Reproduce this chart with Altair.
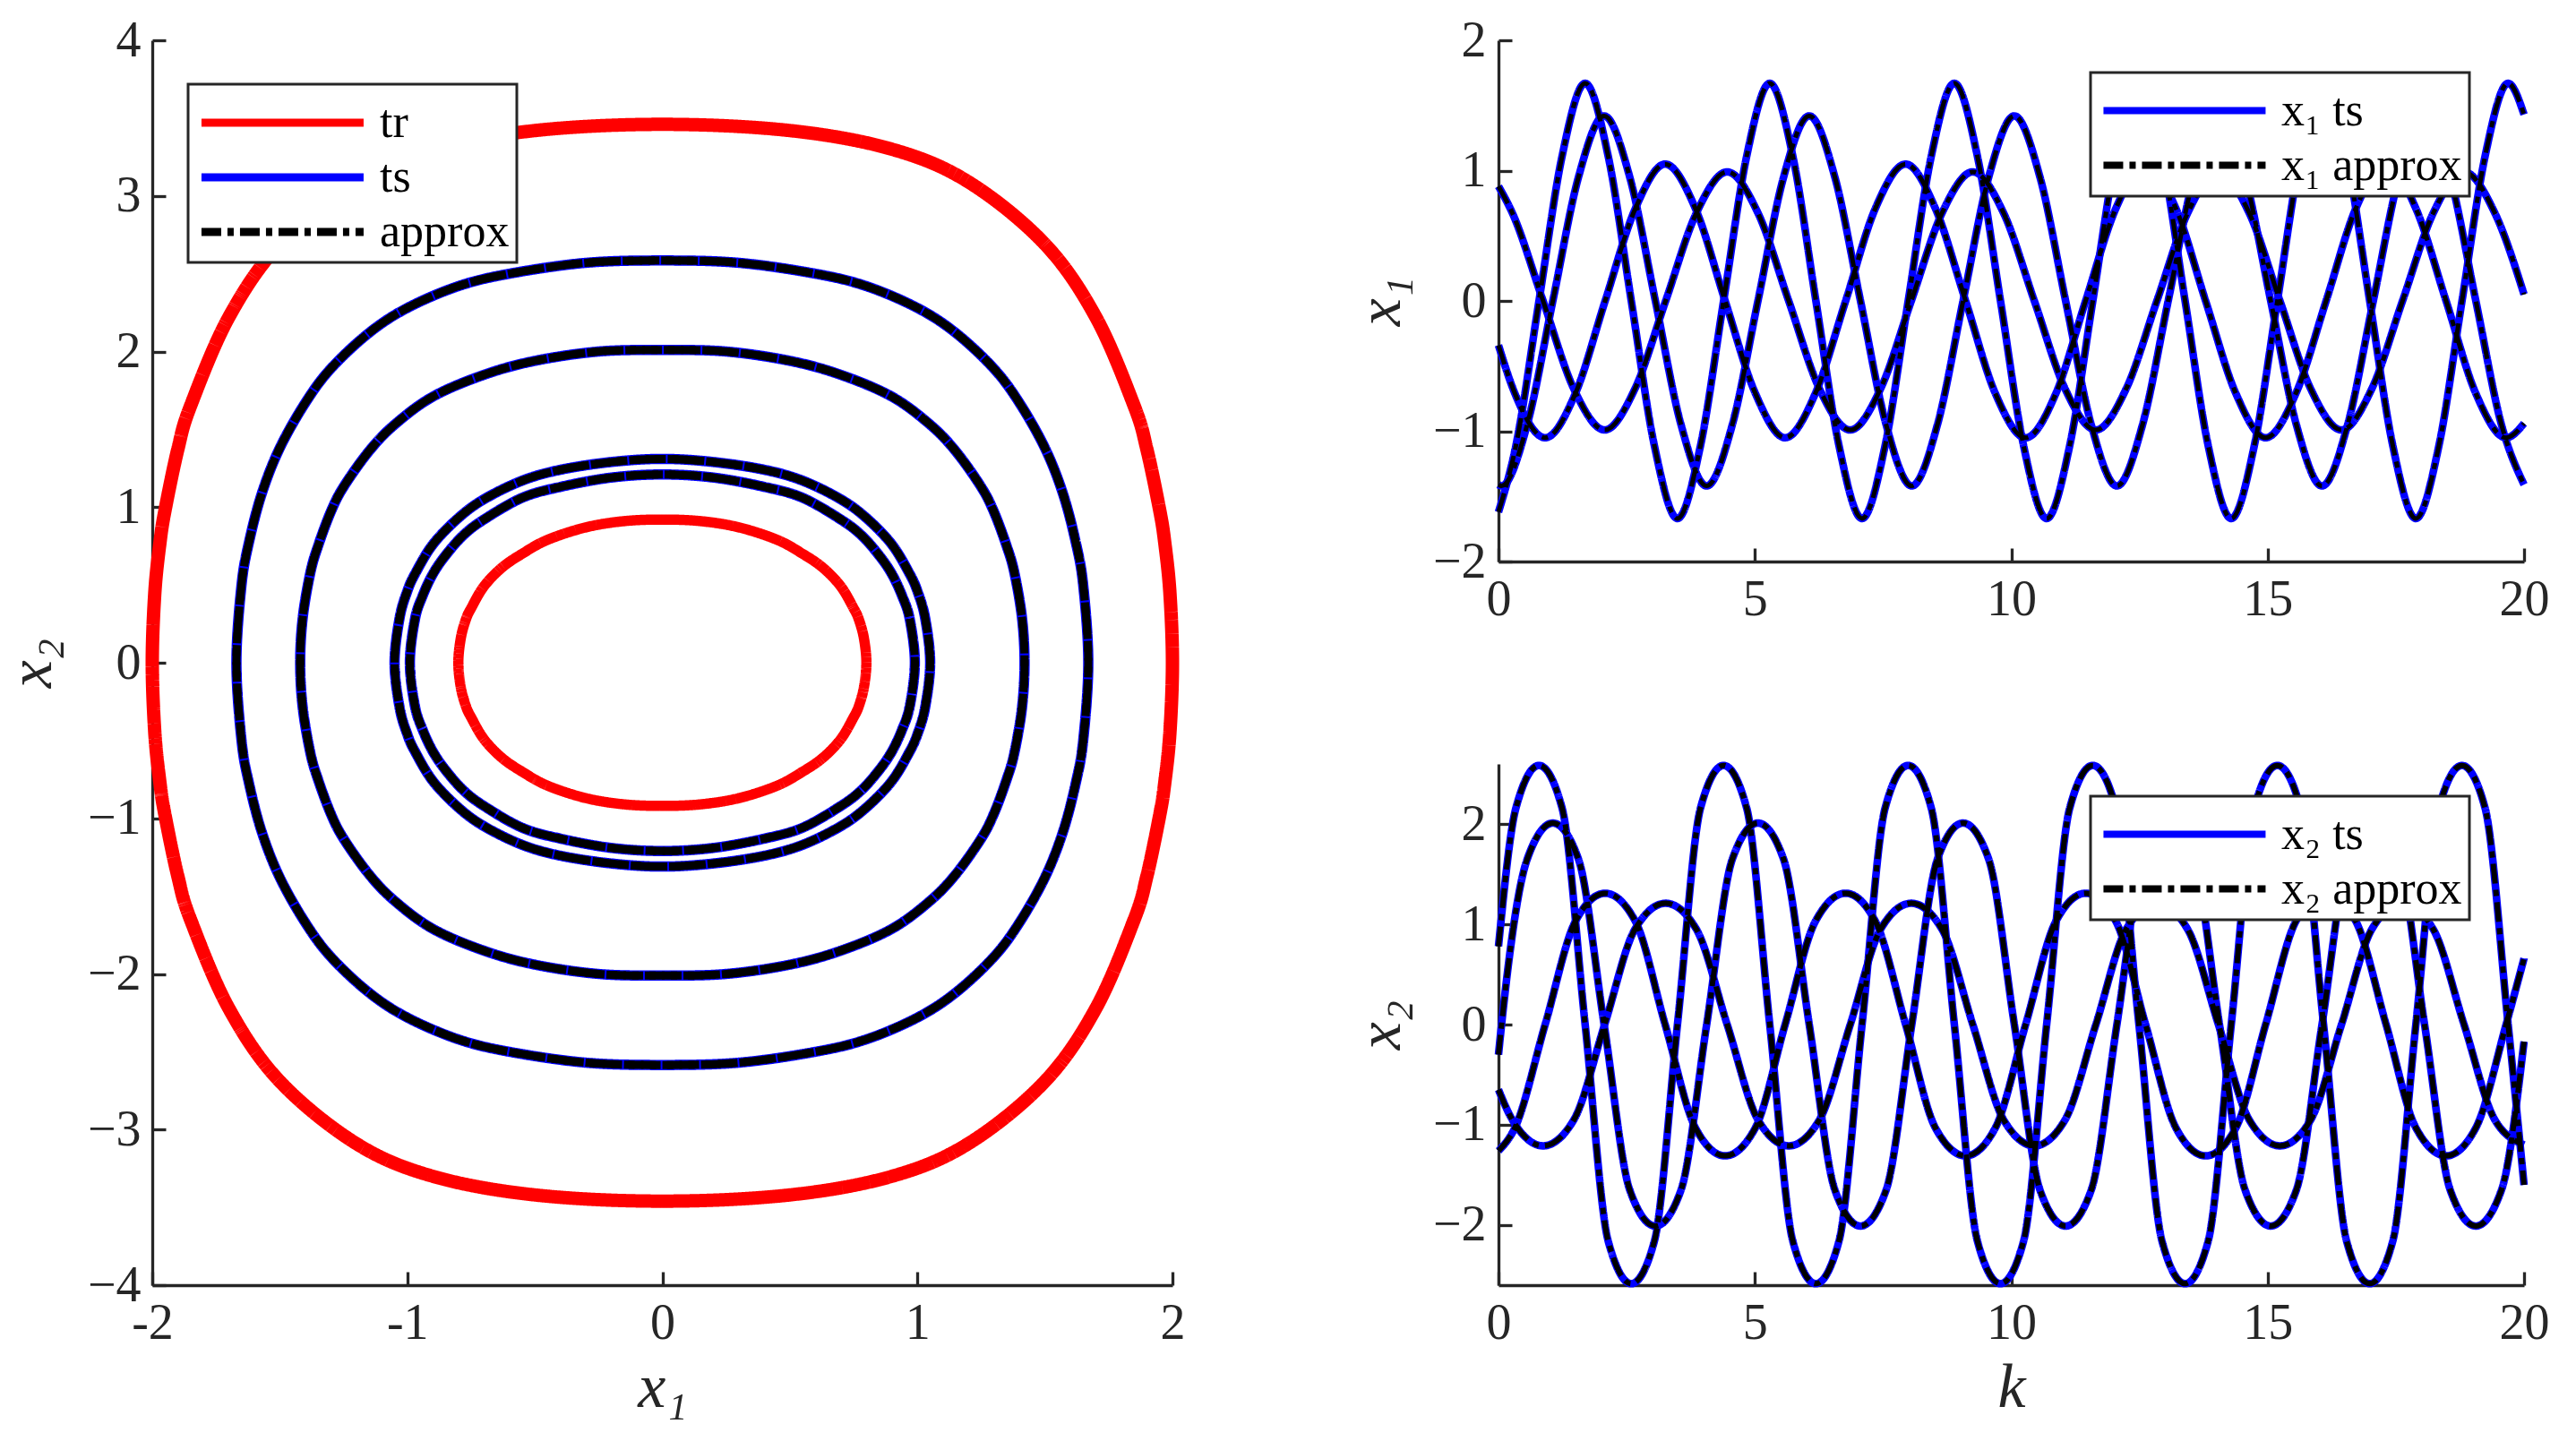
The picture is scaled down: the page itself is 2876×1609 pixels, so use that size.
import altair as alt
import pandas as pd

FONT = "Liberation Serif"
AXC = "#262626"
DASH = [22, 7, 7, 7]

# ---------------- phase plane: closed orbits (x1, x2), traced clockwise from the right tip ----------------
TR_OUTER_X1 = [2.0, 1.99, 1.97, 1.95, 1.9, 1.85, 1.7, 1.5, 1.2, 0.9, 0.5, 0.0,
               -0.5, -0.9, -1.2, -1.5, -1.7, -1.85, -1.9, -1.95, -1.97, -1.99,
               -2.0, -1.99, -1.97, -1.95, -1.9, -1.85, -1.7, -1.5, -1.2, -0.9, -0.5, 0.0,
               0.5, 0.9, 1.2, 1.5, 1.7, 1.85, 1.9, 1.95, 1.97, 1.99]
TR_OUTER_X2 = [0.0, -0.45, -0.77, -0.98, -1.37, -1.65, -2.22, -2.69, -3.09, -3.30, -3.42, -3.46,
               -3.42, -3.30, -3.09, -2.69, -2.22, -1.65, -1.37, -0.98, -0.77, -0.45,
               0.0, 0.45, 0.77, 0.98, 1.37, 1.65, 2.22, 2.69, 3.09, 3.30, 3.42, 3.46,
               3.42, 3.30, 3.09, 2.69, 2.22, 1.65, 1.37, 0.98, 0.77, 0.45]
TR_INNER_X1 = [0.8, 0.79, 0.77, 0.75, 0.7, 0.63, 0.55, 0.45, 0.3, 0.15, 0.0,
               -0.15, -0.3, -0.45, -0.55, -0.63, -0.7, -0.75, -0.77, -0.79,
               -0.8, -0.79, -0.77, -0.75, -0.7, -0.63, -0.55, -0.45, -0.3, -0.15, 0.0,
               0.15, 0.3, 0.45, 0.55, 0.63, 0.7, 0.75, 0.77, 0.79]
TR_INNER_X2 = [0.0, -0.16, -0.28, -0.35, -0.49, -0.61, -0.70, -0.79, -0.87, -0.91, -0.92,
               -0.91, -0.87, -0.79, -0.70, -0.61, -0.49, -0.35, -0.28, -0.16,
               0.0, 0.16, 0.28, 0.35, 0.49, 0.61, 0.70, 0.79, 0.87, 0.91, 0.92,
               0.91, 0.87, 0.79, 0.70, 0.61, 0.49, 0.35, 0.28, 0.16]
ORB_A_X1 = [1.67, 1.65, 1.62, 1.57, 1.5, 1.4, 1.3, 1.15, 1.0, 0.8, 0.6, 0.3, 0.0,
            -0.3, -0.6, -0.8, -1.0, -1.15, -1.3, -1.4, -1.5, -1.57, -1.62, -1.65,
            -1.67, -1.65, -1.62, -1.57, -1.5, -1.4, -1.3, -1.15, -1.0, -0.8, -0.6, -0.3, 0.0,
            0.3, 0.6, 0.8, 1.0, 1.15, 1.3, 1.4, 1.5, 1.57, 1.62, 1.65]
ORB_A_X2 = [0.0, -0.50, -0.78, -1.09, -1.38, -1.67, -1.89, -2.12, -2.28, -2.42, -2.50, -2.57, -2.585,
            -2.57, -2.50, -2.42, -2.28, -2.12, -1.89, -1.67, -1.38, -1.09, -0.78, -0.50,
            0.0, 0.50, 0.78, 1.09, 1.38, 1.67, 1.89, 2.12, 2.28, 2.42, 2.50, 2.57, 2.585,
            2.57, 2.50, 2.42, 2.28, 2.12, 1.89, 1.67, 1.38, 1.09, 0.78, 0.50]
ORB_B_X1 = [1.42, 1.41, 1.38, 1.35, 1.3, 1.25, 1.15, 1.05, 0.9, 0.7, 0.5, 0.25, 0.0,
            -0.25, -0.5, -0.7, -0.9, -1.05, -1.15, -1.25, -1.3, -1.35, -1.38, -1.41,
            -1.42, -1.41, -1.38, -1.35, -1.3, -1.25, -1.15, -1.05, -0.9, -0.7, -0.5, -0.25, 0.0,
            0.25, 0.5, 0.7, 0.9, 1.05, 1.15, 1.25, 1.3, 1.35, 1.38, 1.41]
ORB_B_X2 = [0.0, -0.29, -0.58, -0.75, -0.97, -1.13, -1.36, -1.53, -1.71, -1.85, -1.94, -2.00, -2.01,
            -2.00, -1.94, -1.85, -1.71, -1.53, -1.36, -1.13, -0.97, -0.75, -0.58, -0.29,
            0.0, 0.29, 0.58, 0.75, 0.97, 1.13, 1.36, 1.53, 1.71, 1.85, 1.94, 2.00, 2.01,
            2.00, 1.94, 1.85, 1.71, 1.53, 1.36, 1.13, 0.97, 0.75, 0.58, 0.29]
ORB_C_X1 = [1.05, 1.03, 1.0, 0.97, 0.9, 0.8, 0.7, 0.55, 0.4, 0.2, 0.0,
            -0.2, -0.4, -0.55, -0.7, -0.8, -0.9, -0.97, -1.0, -1.03,
            -1.05, -1.03, -1.0, -0.97, -0.9, -0.8, -0.7, -0.55, -0.4, -0.2, 0.0,
            0.2, 0.4, 0.55, 0.7, 0.8, 0.9, 0.97, 1.0, 1.03]
ORB_C_X2 = [0.0, -0.29, -0.46, -0.57, -0.76, -0.93, -1.05, -1.17, -1.24, -1.29, -1.31,
            -1.29, -1.24, -1.17, -1.05, -0.93, -0.76, -0.57, -0.46, -0.29,
            0.0, 0.29, 0.46, 0.57, 0.76, 0.93, 1.05, 1.17, 1.24, 1.29, 1.31,
            1.29, 1.24, 1.17, 1.05, 0.93, 0.76, 0.57, 0.46, 0.29]
ORB_D_X1 = [0.99, 0.97, 0.94, 0.9, 0.85, 0.78, 0.7, 0.55, 0.4, 0.2, 0.0,
            -0.2, -0.4, -0.55, -0.7, -0.78, -0.85, -0.9, -0.94, -0.97,
            -0.99, -0.97, -0.94, -0.9, -0.85, -0.78, -0.7, -0.55, -0.4, -0.2, 0.0,
            0.2, 0.4, 0.55, 0.7, 0.78, 0.85, 0.9, 0.94, 0.97]
ORB_D_X2 = [0.0, -0.28, -0.43, -0.57, -0.69, -0.82, -0.92, -1.06, -1.13, -1.19, -1.21,
            -1.19, -1.13, -1.06, -0.92, -0.82, -0.69, -0.57, -0.43, -0.28,
            0.0, 0.28, 0.43, 0.57, 0.69, 0.82, 0.92, 1.06, 1.13, 1.19, 1.21,
            1.19, 1.13, 1.06, 0.92, 0.82, 0.69, 0.57, 0.43, 0.28]

# ---------------- time series (k, x1, x2) for the four test trajectories ----------------
A_K = [0, 0.34, 0.79, 1.24, 1.69, 2.14, 2.59, 3.04, 3.49,
       3.94, 4.39, 4.84, 5.29, 5.74, 6.19, 6.64, 7.09,
       7.54, 7.99, 8.44, 8.89, 9.34, 9.79, 10.24, 10.69,
       11.14, 11.59, 12.04, 12.49, 12.94, 13.39, 13.84, 14.29,
       14.74, 15.19, 15.64, 16.09, 16.54, 16.99, 17.44, 17.89,
       18.34, 18.79, 19.24, 19.69, 20]
A_X1 = [-1.62, -1.11, 0, 1.11, 1.67, 1.11, 0, -1.11, -1.67,
        -1.11, 0, 1.11, 1.67, 1.11, 0, -1.11, -1.67,
        -1.11, 0, 1.11, 1.67, 1.11, 0, -1.11, -1.67,
        -1.11, 0, 1.11, 1.67, 1.11, 0, -1.11, -1.67,
        -1.11, 0, 1.11, 1.67, 1.11, 0, -1.11, -1.67,
        -1.11, 0, 1.11, 1.67, 1.43]
A_X2 = [0.78, 2.16, 2.585, 2.16, 0, -2.16, -2.585, -2.16, 0,
        2.16, 2.585, 2.16, 0, -2.16, -2.585, -2.16, 0,
        2.16, 2.585, 2.16, 0, -2.16, -2.585, -2.16, 0,
        2.16, 2.585, 2.16, 0, -2.16, -2.585, -2.16, 0,
        2.16, 2.585, 2.16, 0, -2.16, -2.585, -2.16, 0,
        2.16, 2.585, 2.16, 0, -1.60]

B_K = [0, 0.06, 0.56, 1.06, 1.56, 2.06, 2.56, 3.06, 3.56,
       4.06, 4.56, 5.06, 5.56, 6.06, 6.56, 7.06, 7.56,
       8.06, 8.56, 9.06, 9.56, 10.06, 10.56, 11.06, 11.56,
       12.06, 12.56, 13.06, 13.56, 14.06, 14.56, 15.06, 15.56,
       16.06, 16.56, 17.06, 17.56, 18.06, 18.56, 19.06, 19.56, 20]
B_X1 = [-1.41, -1.42, -0.95, 0, 0.95, 1.42, 0.95, 0, -0.95,
        -1.42, -0.95, 0, 0.95, 1.42, 0.95, 0, -0.95,
        -1.42, -0.95, 0, 0.95, 1.42, 0.95, 0, -0.95,
        -1.42, -0.95, 0, 0.95, 1.42, 0.95, 0, -0.95,
        -1.42, -0.95, 0, 0.95, 1.42, 0.95, 0, -0.95, -1.41]
B_X2 = [-0.30, 0, 1.65, 2.01, 1.65, 0, -1.65, -2.01, -1.65,
        0, 1.65, 2.01, 1.65, 0, -1.65, -2.01, -1.65,
        0, 1.65, 2.01, 1.65, 0, -1.65, -2.01, -1.65,
        0, 1.65, 2.01, 1.65, 0, -1.65, -2.01, -1.65,
        0, 1.65, 2.01, 1.65, 0, -1.65, -2.01, -1.65, -0.17]

C_K = [0, 0.32, 0.91, 1.50, 2.08, 2.67, 3.25, 3.84, 4.42, 5.01,
       5.59, 6.18, 6.77, 7.35, 7.94, 8.52, 9.11, 9.69,
       10.28, 10.87, 11.45, 12.04, 12.62, 13.21, 13.79, 14.38,
       14.96, 15.55, 16.14, 16.72, 17.31, 17.89, 18.48, 19.06,
       19.65, 20]
C_X1 = [-0.34, -0.71, -1.05, -0.71, 0, 0.71, 1.05, 0.71, 0, -0.71,
        -1.05, -0.71, 0, 0.71, 1.05, 0.71, 0, -0.71,
        -1.05, -0.71, 0, 0.71, 1.05, 0.71, 0, -0.71,
        -1.05, -0.71, 0, 0.71, 1.05, 0.71, 0, -0.71,
        -1.05, -0.94]
C_X2 = [-1.26, -1.03, 0, 1.03, 1.31, 1.03, 0, -1.03, -1.31, -1.03,
        0, 1.03, 1.31, 1.03, 0, -1.03, -1.31, -1.03,
        0, 1.03, 1.31, 1.03, 0, -1.03, -1.31, -1.03,
        0, 1.03, 1.31, 1.03, 0, -1.03, -1.31, -1.03,
        0, 0.66]

D_K = [0, 0.27, 0.87, 1.47, 2.07, 2.66, 3.26, 3.86, 4.46,
       5.06, 5.66, 6.26, 6.86, 7.45, 8.05, 8.65, 9.25,
       9.85, 10.45, 11.05, 11.65, 12.24, 12.84, 13.44, 14.04,
       14.64, 15.24, 15.84, 16.44, 17.03, 17.63, 18.23, 18.83,
       19.43, 20]
D_X1 = [0.88, 0.675, 0, -0.675, -0.99, -0.675, 0, 0.675, 0.99,
        0.675, 0, -0.675, -0.99, -0.675, 0, 0.675, 0.99,
        0.675, 0, -0.675, -0.99, -0.675, 0, 0.675, 0.99,
        0.675, 0, -0.675, -0.99, -0.675, 0, 0.675, 0.99,
        0.675, 0.05]
D_X2 = [-0.65, -0.95, -1.21, -0.95, 0, 0.95, 1.21, 0.95, 0,
        -0.95, -1.21, -0.95, 0, 0.95, 1.21, 0.95, 0,
        -0.95, -1.21, -0.95, 0, 0.95, 1.21, 0.95, 0,
        -0.95, -1.21, -0.95, 0, 0.95, 1.21, 0.95, 0,
        -0.95, -1.20]

# ---------------- tables ----------------
def loop_df(pairs, series):
    rows = []
    for name, xs, ys in pairs:
        for i, (a, b) in enumerate(zip(xs, ys)):
            rows.append({"x1": a, "x2": b, "i": i, "orbit": name, "s": series})
    return pd.DataFrame(rows)

tr_outer = loop_df([("o", TR_OUTER_X1, TR_OUTER_X2)], "tr")
tr_inner = loop_df([("i", TR_INNER_X1, TR_INNER_X2)], "tr")
orbits = [("A", ORB_A_X1, ORB_A_X2), ("B", ORB_B_X1, ORB_B_X2),
          ("C", ORB_C_X1, ORB_C_X2), ("D", ORB_D_X1, ORB_D_X2)]
ts_loops = loop_df(orbits, "ts")
ap_loops = loop_df(orbits, "approx")

ts_rows = []
for name, ks, a1, a2 in [("A", A_K, A_X1, A_X2), ("B", B_K, B_X1, B_X2),
                         ("C", C_K, C_X1, C_X2), ("D", D_K, D_X1, D_X2)]:
    for k, u, v in zip(ks, a1, a2):
        ts_rows.append({"k": k, "x1": u, "x2": v, "traj": name})
series = pd.DataFrame(ts_rows)


# ---------------- helpers ----------------
def legend(x, y, sw):
    return alt.Legend(title=None, orient="none", legendX=x, legendY=y,
                      symbolType="M-0.93,0H5.07", symbolSize=3640, symbolStrokeWidth=sw,
                      labelOffset=136, labelFont=FONT, labelFontSize=52, labelColor="black",
                      padding=8, rowPadding=0, fillColor="white", strokeColor=AXC,
                      labelLimit=0)


def main_axis(orient, values, title, label_pad, title_pad, label_expr=None):
    kw = dict(orient=orient, values=values, ticks=False, tickSize=0, domain=True,
              domainColor=AXC, domainWidth=3.3, labelFont=FONT, labelFontSize=56,
              labelColor=AXC, labelPadding=label_pad, grid=False, labelFlush=False,
              labelOverlap=False)
    if title:
        kw.update(title=title, titleFont=FONT, titleFontSize=70, titleFontStyle="italic",
                  titleFontWeight="normal", titleColor=AXC, titlePadding=title_pad)
    else:
        kw.update(title=None)
    if label_expr:
        kw["labelExpr"] = label_expr
    return alt.Axis(**kw)


def tick_axis(orient, values, offset):
    return alt.Axis(orient=orient, values=values, offset=offset, labels=False, domain=False,
                    ticks=True, tickSize=15, tickWidth=3.3, tickColor=AXC, title=None, grid=False)


# ---------------- left: phase plane ----------------
LW, LH = 1139, 1390
XV = [-2, -1, 0, 1, 2]
YV = [-4, -3, -2, -1, 0, 1, 2, 3, 4]
sdom = ["tr", "ts", "approx"]
leg_l = legend(40, 49, 9)


def phase_layer(df, width, axes, dash_offset=0):
    if axes == "main":
        ax_x = main_axis("bottom", XV, "x₁", 15, 10,
                         "datum.value < 0 ? '-' + format(abs(datum.value), 'd') : datum.label")
        ax_y = main_axis("left", YV, "x₂", 13, 26)
    elif axes == "ticks":
        ax_x = tick_axis("top", XV, -LH)
        ax_y = tick_axis("right", YV, -LW)
    else:
        ax_x = None
        ax_y = None
    return alt.Chart(df).mark_line(interpolate="cardinal-closed", strokeWidth=width,
                                   strokeDashOffset=dash_offset).encode(
        x=alt.X("x1:Q", scale=alt.Scale(domain=[-2, 2], nice=False, zero=False), axis=ax_x),
        y=alt.Y("x2:Q", scale=alt.Scale(domain=[-4, 4], nice=False, zero=False), axis=ax_y),
        order="i:Q",
        detail="orbit:N",
        color=alt.Color("s:N", scale=alt.Scale(domain=sdom, range=["#ff0000", "#0000ff", "#000000"]),
                        legend=leg_l),
        strokeDash=alt.StrokeDash("s:N", scale=alt.Scale(domain=sdom, range=[[1, 0], [1, 0], DASH]),
                                  legend=leg_l),
    )


left = alt.layer(
    phase_layer(tr_outer, 15, "main"),
    phase_layer(tr_inner, 11.5, "ticks"),
    phase_layer(ts_loops, 11.5, None),
    phase_layer(ap_loops, 9, None, 0),
    phase_layer(ap_loops, 9, None, 19),
).resolve_axis(x="independent", y="independent").properties(width=LW, height=LH)

# ---------------- right: time series ----------------
RW, RH = 1145, 582
KV = [0, 5, 10, 15, 20]
Y2V = [-2, -1, 0, 1, 2]


def ts_panel(var, ydom, ytitle, xtitle, black_w):
    dom = [f"{ytitle} ts", f"{ytitle} approx"]
    leg = legend(661, 36, 8)
    layers = []
    for idx, (lab, w) in enumerate([(dom[0], 8.5), (dom[1], black_w)]):
        df = series.assign(s=lab)
        if idx == 0:
            ax_x = main_axis("bottom", KV, xtitle, 15, 10)
            ax_y = main_axis("left", Y2V, ytitle, 14, 22)
        else:
            ax_x = tick_axis("top", KV, -RH)
            ax_y = tick_axis("right", Y2V, -RW)
        layers.append(alt.Chart(df).mark_line(interpolate="monotone", strokeWidth=w).encode(
            x=alt.X("k:Q", scale=alt.Scale(domain=[0, 20], nice=False, zero=False), axis=ax_x),
            y=alt.Y(f"{var}:Q", scale=alt.Scale(domain=ydom, nice=False, zero=False), axis=ax_y),
            detail="traj:N",
            color=alt.Color("s:N", scale=alt.Scale(domain=dom, range=["#0000ff", "#000000"]), legend=leg),
            strokeDash=alt.StrokeDash("s:N", scale=alt.Scale(domain=dom, range=[[1, 0], DASH]), legend=leg),
        ))
    return alt.layer(*layers).resolve_axis(x="independent", y="independent").properties(width=RW, height=RH)


top = ts_panel("x1", [-2, 2], "x₁", None, 5)
bottom = ts_panel("x2", [-2.6, 2.6], "x₂", "k", 6)

right = alt.vconcat(top, bottom, spacing=226, bounds="flush").resolve_scale(
    color="independent", strokeDash="independent").resolve_legend(color="independent", strokeDash="independent")

chart = alt.hconcat(left, right, spacing=364, bounds="flush").resolve_scale(
    color="independent", strokeDash="independent").resolve_legend(
    color="independent", strokeDash="independent").properties(
    padding={"left": -8, "top": 9, "right": 10, "bottom": 10}
).configure_view(stroke=None).configure_legend(strokeWidth=3)

chart.save("out.html", embed_options={"renderer": "svg", "actions": False})
